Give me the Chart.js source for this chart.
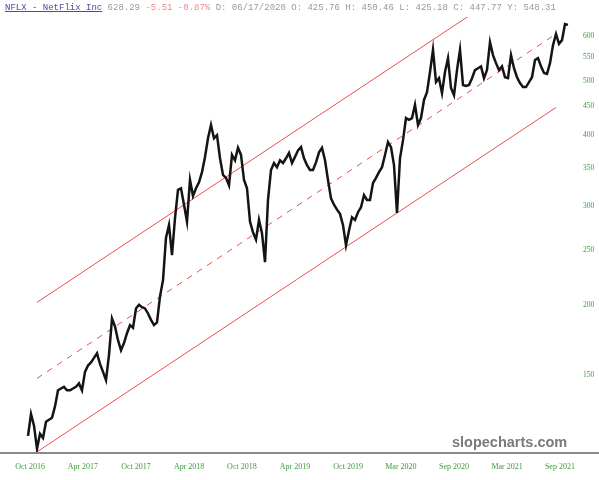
<!DOCTYPE html>
<html>
<head>
<meta charset="utf-8">
<script src="https://cdn.jsdelivr.net/npm/chart.js@4.4.0/dist/chart.umd.min.js"></script>
<style>
  body{margin:0;background:#fff;}
  #wrap{position:relative;width:599px;height:480px;}
  #hdr{position:absolute;left:5px;top:3px;font:9px "Liberation Mono",monospace;color:#999;white-space:pre;}
  #hdr .sym{color:#4a4aa8;text-decoration:underline;}
  #hdr .neg{color:#f08a8a;}
  #mark{position:absolute;left:452px;top:434px;font:bold 14.5px "Liberation Sans",Arial,sans-serif;color:#7a7a7a;}
</style>
</head>
<body>
<div id="wrap">
  <canvas id="c" width="599" height="480"></canvas>
  <div id="hdr"><span class="sym">NFLX - NetFlix Inc</span> 628.29 <span class="neg">-5.51 -0.87%</span> D: 06/17/2020 O: 425.76 H: 450.46 L: 425.18 C: 447.77 Y: 548.31</div>
  <div id="mark">slopecharts.com</div>
</div>
<script>
// price closes, one every few sessions, Oct 2016 -> Oct 2021
var closes = [
  117,128,122,111,118,116,124,125,126,132,
  141,142,143,141,141,142,143,145,141,152,
  156,158,161,164,157,152,147,163,189,183,
  173,166,171,178,184,182,197,200,198,197,
  193,188,184,186,207,221,263,277,245,285,
  320,322,301,281,333,312,322,330,344,366,
  395,417,395,400,364,340,336,326,369,361,
  380,369,333,322,281,269,261,283,268,238,
  307,347,357,351,361,357,364,372,357,366,
  376,381,364,354,347,347,358,373,380,361,
  333,309,301,295,290,277,255,271,286,283,
  292,298,313,307,307,329,336,344,351,369,
  389,381,354,291,364,392,429,426,429,453,
  417,429,462,477,518,567,497,505,475,518,
  548,485,471,522,567,491,489,491,505,522,
  526,530,505,522,585,555,537,522,530,507,
  505,555,526,507,495,487,487,497,507,544,
  548,530,516,514,537,578,605,581,590,630,
  628
];

// regression channel (start / end bar, value at each end)
var chanStart = 3, chanEnd = 176;
var upperLine = [202, 825];
var midLine = [148, 605];
var lowerLine = [109.6, 448];

// axis ticks
var tickIndex = [0.7, 18.3, 36, 53.7, 71.3, 89, 106.7, 124.3, 142, 159.7, 177.3];
var tickLabels = ['Oct 2016','Apr 2017','Oct 2017','Apr 2018','Oct 2018','Apr 2019','Oct 2019','Mar 2020','Sep 2020','Mar 2021','Sep 2021'];
var yTicks = [150,200,250,300,350,400,450,500,550,600];

var red = 'rgb(232,80,80)';
var green = '#3c9a3c';

// full-width bottom rule
var bottomRule = {
  id:'bottomRule',
  afterDraw(chart){
    var c = chart.ctx, b = chart.chartArea.bottom;
    c.save();
    c.fillStyle = '#8a8a8a';
    c.fillRect(0, b - 1, chart.width, 2);
    c.restore();
  }
};

function seg(vals){
  return [{x:chanStart, y:vals[0]}, {x:chanEnd, y:vals[1]}];
}

var ctx = document.getElementById('c').getContext('2d');
var chart = new Chart(ctx, {
  type:'line',
  data:{
    datasets:[
      {data:closes.map((v,i)=>({x:i, y:v})), borderColor:'#141414', borderWidth:2.5, pointRadius:0, tension:0, order:0},
      {data:seg(upperLine), borderColor:red, borderWidth:1, pointRadius:0, order:1},
      {data:seg(midLine), borderColor:red, borderWidth:1, borderDash:[6,6], pointRadius:0, order:1},
      {data:seg(lowerLine), borderColor:red, borderWidth:1, pointRadius:0, order:1}
    ]
  },
  options:{
    responsive:false,
    animation:false,
    layout:{padding:{top:17, left:0, right:0, bottom:0}},
    plugins:{legend:{display:false}, tooltip:{enabled:false}},
    scales:{
      x:{
        type:'linear',
        min:-28/3,
        max:-28/3 + 575/3,
        grid:{display:false, drawTicks:false},
        border:{display:false},
        ticks:{
          autoSkip:false, maxRotation:0, padding:9,
          color:green,
          font:{family:'"Liberation Serif", serif', size:8},
          callback:(v, i)=>tickLabels[i]
        },
        afterBuildTicks:s=>{ s.ticks = tickIndex.map(v=>({value:v})); },
        afterFit:s=>{ s.height = 27; }
      },
      y:{
        type:'logarithmic',
        position:'right',
        min:109.1,
        max:648.5,
        grid:{display:false, drawTicks:false},
        border:{display:false},
        ticks:{
          autoSkip:false, padding:8,
          color:green,
          font:{family:'"Liberation Serif", serif', size:7.5},
          callback:v=>String(v)
        },
        afterBuildTicks:s=>{ s.ticks = yTicks.map(v=>({value:v})); },
        afterFit:s=>{ s.width = 24; }
      }
    }
  },
  plugins:[bottomRule]
});
</script>
</body>
</html>
